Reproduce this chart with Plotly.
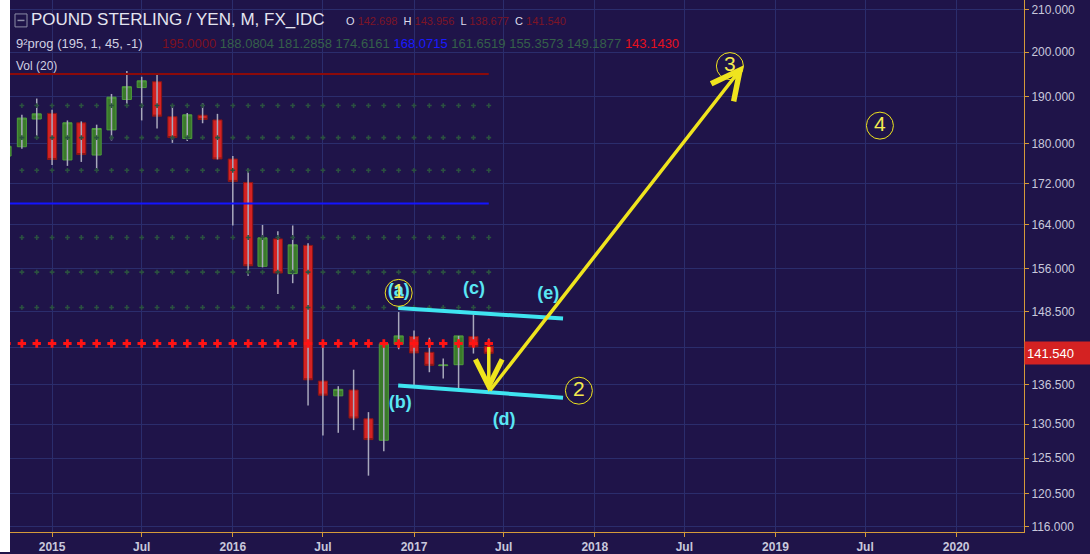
import math
import plotly.graph_objects as go

# ---------------- data ----------------
months = ['2014-10-01', '2014-11-01', '2014-12-01', '2015-01-01', '2015-02-01', '2015-03-01',
          '2015-04-01', '2015-05-01', '2015-06-01', '2015-07-01', '2015-08-01', '2015-09-01',
          '2015-10-01', '2015-11-01', '2015-12-01', '2016-01-01', '2016-02-01', '2016-03-01',
          '2016-04-01', '2016-05-01', '2016-06-01', '2016-07-01', '2016-08-01', '2016-09-01',
          '2016-10-01', '2016-11-01', '2016-12-01', '2017-01-01', '2017-02-01', '2017-03-01',
          '2017-04-01', '2017-05-01', '2017-06-01']
opens = [177.5, 179.4, 185.2, 186.4, 176.7, 184.4, 177.7, 182.9, 189.4, 192.0, 193.3, 185.7,
         181.1, 186.0, 185.0, 176.9, 172.2, 156.4, 161.4, 155.1, 160.2, 137.1, 134.8, 135.7,
         131.3, 128.1, 143.0, 144.3, 141.7, 139.55, 139.7, 144.3, 142.698]
highs = [180.0, 186.1, 189.6, 187.2, 184.9, 184.7, 184.0, 190.6, 195.7, 194.4, 195.0, 188.2,
         186.5, 188.6, 186.3, 177.5, 175.0, 164.0, 162.8, 163.9, 160.6, 142.9, 136.3, 138.9,
         132.3, 143.2, 148.4, 145.3, 144.1, 140.7, 144.4, 148.0, 143.956]
lows = [176.5, 179.0, 181.6, 175.7, 175.5, 176.3, 174.8, 180.7, 188.4, 184.9, 183.2, 180.2,
        180.6, 184.3, 176.8, 163.9, 154.7, 156.2, 151.5, 153.4, 133.3, 128.8, 129.2, 129.6,
        123.0, 126.5, 142.2, 136.5, 138.5, 137.5, 135.7, 141.5, 138.677]
closes = [179.5, 185.4, 186.3, 176.8, 184.4, 177.8, 183.2, 189.9, 192.2, 193.5, 185.8, 181.3,
          186.1, 185.1, 176.9, 172.4, 156.5, 161.6, 155.2, 160.3, 137.3, 134.9, 135.8, 131.4,
          128.2, 143.1, 144.4, 141.6, 139.6, 139.65, 144.4, 142.6, 141.540]

# 9^2 prog indicator levels
prog_values = [195.0000, 188.0804, 181.2858, 174.6161, 168.0715, 161.6519, 155.3573, 149.1877, 143.1430]
prog_colors = ['#7e1020', '#35604a', '#35604a', '#35604a', '#1a1aff', '#35604a', '#35604a', '#35604a', '#e8101c']
dotted_levels = [188.0804, 181.2858, 174.6161, 161.6519, 155.3573, 149.1877]
red_line_level = 195.0000
blue_line_level = 168.0715
cross_level = 143.1430

last_price = 141.540

ytick_vals = [116.0, 120.5, 125.5, 130.5, 136.5, 142.5, 148.5, 156.0, 164.0, 172.0, 180.0, 190.0, 200.0, 210.0]
xtick_vals = ['2015-01-01', '2015-07-01', '2016-01-01', '2016-07-01', '2017-01-01', '2017-07-01',
              '2018-01-01', '2018-07-01', '2019-01-01', '2019-07-01', '2020-01-01']
xtick_text = ['2015', 'Jul', '2016', 'Jul', '2017', 'Jul', '2018', 'Jul', '2019', 'Jul', '2020']

# Elliott-wave drawing
upper_line_dates = ['2016-11-30', '2017-10-29']
upper_line_prices = [149.1, 147.3]
lower_line_dates = ['2016-11-30', '2017-10-29']
lower_line_prices = [136.4, 134.5]
wave_labels = ['(a)', '(b)', '(c)', '(d)', '(e)']
wave_dates = ['2016-12-01', '2016-12-04', '2017-05-02', '2017-07-02', '2017-09-29']
wave_prices = [151.9, 133.6, 152.3, 131.0, 151.5]
circle_labels = ['1', '2', '3', '4']
circle_dates = ['2016-12-01', '2017-11-30', '2018-10-01', '2019-07-31']
circle_prices = [151.7, 135.6, 196.8, 183.8]
arrow_down_from = ('2017-06-01', 142.8)
arrow_down_to = ('2017-06-01', 135.4)
arrow_up_to = ('2018-10-29', 197.0)

# ---------------- style ----------------
BG = '#1f1449'
GRID = '#2b2d6c'
GOLD = '#d49a3a'
TXT = '#c8c8dc'
YEL = '#efe41e'
CYAN = '#3fe4f0'
W, H = 1090, 554
ML, MR, MT, MB = 10, 66, 0, 20
PW, PH = W - ML - MR, H - MT - MB


def px(x):
    return (x - ML) / PW


def py(y):
    return (H - MB - y) / PH


fig = go.Figure()

# wicks
wx, wy = [], []
for d, h, l in zip(months, highs, lows):
    wx += [d, d, None]
    wy += [l, h, None]
fig.add_trace(go.Scatter(x=wx, y=wy, mode='lines', line=dict(color='#a8a8bc', width=1.5),
                         hoverinfo='skip'))

# bodies
fig.add_trace(go.Candlestick(
    x=months, open=opens, close=closes,
    high=[max(o, c) for o, c in zip(opens, closes)],
    low=[min(o, c) for o, c in zip(opens, closes)],
    increasing=dict(fillcolor='#3a7a2a', line=dict(color='#4f9c3c', width=1)),
    decreasing=dict(fillcolor='#d42222', line=dict(color='#8a1616', width=1)),
    whiskerwidth=0, hoverinfo='skip'))

# indicator lines / dots
fig.add_trace(go.Scatter(x=[months[0], months[-1]], y=[red_line_level] * 2, mode='lines',
                         line=dict(color='#8c0a0a', width=2), hoverinfo='skip'))
fig.add_trace(go.Scatter(x=[months[0], months[-1]], y=[blue_line_level] * 2, mode='lines',
                         line=dict(color='#1414ff', width=2), hoverinfo='skip'))
for lv in dotted_levels:
    fig.add_trace(go.Scatter(x=months, y=[lv] * len(months), mode='markers',
                             marker=dict(symbol='cross', size=4, color='#2b5140'),
                             hoverinfo='skip'))
fig.add_trace(go.Scatter(x=months, y=[cross_level] * len(months), mode='markers',
                         marker=dict(symbol='cross', size=7, color='#ff1414'),
                         hoverinfo='skip'))

# cyan channel
fig.add_trace(go.Scatter(x=upper_line_dates, y=upper_line_prices, mode='lines',
                         line=dict(color=CYAN, width=4), hoverinfo='skip'))
fig.add_trace(go.Scatter(x=lower_line_dates, y=lower_line_prices, mode='lines',
                         line=dict(color=CYAN, width=4), hoverinfo='skip'))

# wave letters
fig.add_trace(go.Scatter(x=wave_dates, y=wave_prices, mode='text', text=wave_labels,
                         textfont=dict(color='#5ae6f4', size=18, family='Liberation Sans', weight='bold'),
                         textposition='middle center', hoverinfo='skip'))

# circled numbers
fig.add_trace(go.Scatter(x=circle_dates, y=circle_prices, mode='markers+text', text=circle_labels,
                         marker=dict(symbol='circle-open', size=27, color=YEL, line=dict(width=1)),
                         textfont=dict(color='#f4ea50', size=21, family='Liberation Sans'),
                         textposition='middle center', hoverinfo='skip'))

annotations = []
# arrows (log axis -> log10 positions)
annotations.append(dict(x=arrow_down_to[0], y=math.log10(arrow_down_to[1]),
                        ax=arrow_down_from[0], ay=math.log10(arrow_down_from[1]),
                        xref='x', yref='y', axref='x', ayref='y', text='', showarrow=True,
                        arrowhead=5, arrowsize=1.5, arrowwidth=3.5, arrowcolor=YEL))
annotations.append(dict(x=arrow_up_to[0], y=math.log10(arrow_up_to[1]),
                        ax=arrow_down_to[0], ay=math.log10(arrow_down_to[1]),
                        xref='x', yref='y', axref='x', ayref='y', text='', showarrow=True,
                        arrowhead=5, arrowsize=1.6, arrowwidth=3.5, arrowcolor=YEL))

# header
annotations.append(dict(xref='paper', yref='paper', x=px(29), y=py(20), xanchor='left', yanchor='middle',
                        text='POUND STERLING / YEN, M, FX_IDC', showarrow=False,
                        font=dict(color='#e4e4f0', size=17, family='Liberation Sans')))
vc = '#7e1426'
ohlc_txt = ('O <span style="color:%s">%.3f</span>  H <span style="color:%s">%.3f</span>  '
            'L <span style="color:%s">%.3f</span>  C <span style="color:%s">%.3f</span>') % (
    vc, opens[-1], vc, highs[-1], vc, lows[-1], vc, closes[-1])
annotations.append(dict(xref='paper', yref='paper', x=px(344), y=py(21), xanchor='left', yanchor='middle',
                        text=ohlc_txt, showarrow=False,
                        font=dict(color='#dcdcec', size=11, family='Liberation Sans')))
annotations.append(dict(xref='paper', yref='paper', x=px(14), y=py(44), xanchor='left', yanchor='middle',
                        text='9²prog (195, 1, 45, -1)', showarrow=False,
                        font=dict(color='#d0d0e2', size=13, family='Liberation Sans')))
prog_txt = ' '.join('<span style="color:%s">%.4f</span>' % (c, v) for v, c in zip(prog_values, prog_colors))
annotations.append(dict(xref='paper', yref='paper', x=px(160), y=py(44), xanchor='left', yanchor='middle',
                        text=prog_txt, showarrow=False,
                        font=dict(color='#35604a', size=13, family='Liberation Sans')))
annotations.append(dict(xref='paper', yref='paper', x=px(14), y=py(66), xanchor='left', yanchor='middle',
                        text='Vol (20)', showarrow=False,
                        font=dict(color='#d0d0e2', size=12, family='Liberation Sans')))
# last price box
annotations.append(dict(xref='paper', yref='y', x=1, y=math.log10(last_price), xanchor='left', yanchor='middle',
                        text='%.3f' % last_price, showarrow=False, bgcolor='#d42222',
                        width=62, height=18, borderpad=2, align='left', xshift=0,
                        font=dict(color='#ffffff', size=13, family='Liberation Sans')))

shapes = [
    dict(type='rect', xref='paper', yref='paper', x0=px(0), x1=px(ML), y0=py(H), y1=py(0),
         fillcolor='#ffffff', line=dict(width=0), layer='above'),
    dict(type='rect', xref='paper', yref='paper', x0=px(15), x1=px(27), y0=py(27), y1=py(14),
         fillcolor='rgba(0,0,0,0)', line=dict(color='#8c8ca6', width=1)),
    dict(type='line', xref='paper', yref='paper', x0=px(17.5), x1=px(24.5), y0=py(20.5), y1=py(20.5),
         line=dict(color='#8c8ca6', width=1.5)),
]

fig.update_layout(
    width=W, height=H, margin=dict(l=ML, r=MR, t=MT, b=MB),
    paper_bgcolor=BG, plot_bgcolor=BG, showlegend=False,
    boxgap=0.19, boxgroupgap=0.19,
    annotations=annotations, shapes=shapes,
    xaxis=dict(type='date', range=['2014-10-08', '2020-05-17'], rangeslider=dict(visible=False),
               tickmode='array', tickvals=xtick_vals, ticktext=xtick_text,
               showgrid=True, gridcolor=GRID, gridwidth=1, zeroline=False,
               showline=True, linecolor=GOLD, linewidth=1,
               ticks='outside', tickcolor=GOLD, ticklen=4,
               tickfont=dict(color=TXT, size=12, family='Liberation Sans', weight='bold')),
    yaxis=dict(type='log', side='right', range=[math.log10(115.3), math.log10(212.3)],
               tickmode='array', tickvals=ytick_vals, ticktext=['%.3f' % v for v in ytick_vals],
               showgrid=True, gridcolor=GRID, gridwidth=1, zeroline=False,
               showline=True, linecolor=GOLD, linewidth=1,
               ticks='outside', tickcolor=GOLD, ticklen=4,
               tickfont=dict(color=TXT, size=12, family='Liberation Sans')),
)

fig.write_html('out.html', config={'displayModeBar': False},
               post_script="document.body.style.margin='0';document.body.style.overflow='hidden';")
